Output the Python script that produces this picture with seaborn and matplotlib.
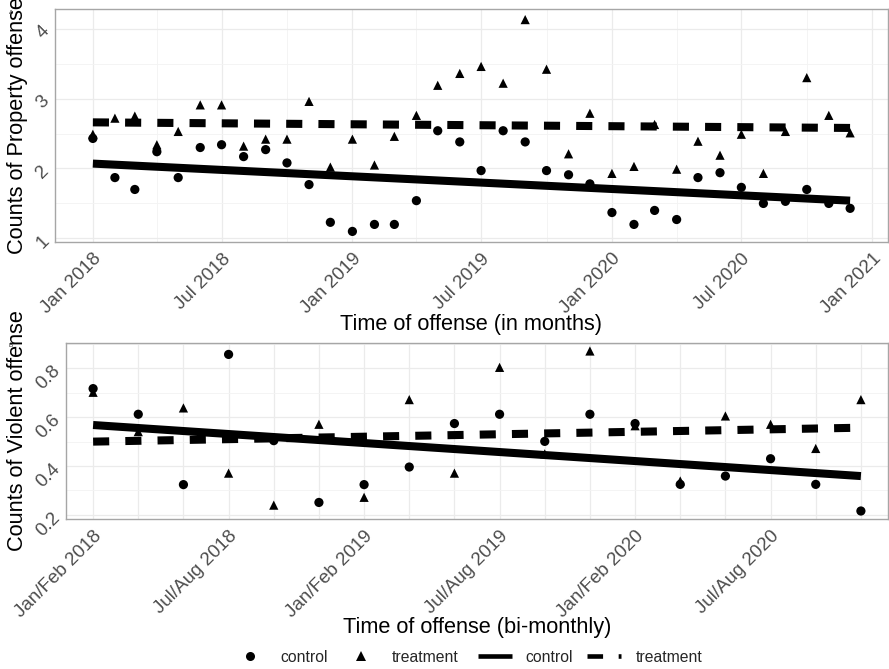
import matplotlib
matplotlib.use("Agg")
import matplotlib.dates as mdates
import matplotlib.pyplot as plt
import numpy as np
import pandas as pd
import seaborn as sns
from matplotlib.lines import Line2D
from matplotlib.ticker import FixedLocator, FormatStrFormatter, MultipleLocator

# panel A: monthly property offences
months = pd.date_range("2018-01-01", "2020-12-01", freq="MS")
property_control = [
    2.43, 1.87, 1.70, 2.24, 1.87, 2.30, 2.34, 2.17, 2.27, 2.08, 1.77, 1.23,
    1.10, 1.20, 1.20, 1.54, 2.54, 2.38, 1.97, 2.54, 2.38, 1.97, 1.91, 1.78,
    1.37, 1.20, 1.40, 1.27, 1.87, 1.94, 1.73, 1.50, 1.53, 1.70, 1.50, 1.43,
]
property_treatment = [
    2.49, 2.72, 2.75, 2.34, 2.53, 2.91, 2.91, 2.32, 2.42, 2.42, 2.96, 2.02,
    2.42, 2.05, 2.46, 2.76, 3.19, 3.36, 3.46, 3.22, 4.13, 3.42, 2.21, 2.79,
    1.93, 2.03, 2.63, 1.99, 2.39, 2.19, 2.49, 1.93, 2.53, 3.30, 2.76, 2.51,
]
# fitted trend (first and last month)
property_fit_control = [2.07, 1.54]
property_fit_treatment = [2.66, 2.58]

# panel B: bi-monthly violent offences
bimonths = [
    "Jan/Feb 2018", "Mar/Apr 2018", "May/Jun 2018", "Jul/Aug 2018", "Sep/Oct 2018", "Nov/Dec 2018",
    "Jan/Feb 2019", "Mar/Apr 2019", "May/Jun 2019", "Jul/Aug 2019", "Sep/Oct 2019", "Nov/Dec 2019",
    "Jan/Feb 2020", "Mar/Apr 2020", "May/Jun 2020", "Jul/Aug 2020", "Sep/Oct 2020", "Nov/Dec 2020",
]
violent_control = [
    0.717, 0.612, 0.324, 0.857, 0.504, 0.251, 0.324, 0.396, 0.574,
    0.612, 0.501, 0.612, 0.574, 0.325, 0.359, 0.430, 0.325, 0.216,
]
violent_treatment = [
    0.702, 0.541, 0.638, 0.371, 0.240, 0.571, 0.272, 0.672, 0.371,
    0.804, 0.450, 0.871, 0.565, 0.339, 0.605, 0.571, 0.472, 0.672,
]
violent_fit_control = [0.568, 0.359]
violent_fit_treatment = [0.500, 0.557]

groups = ["control", "treatment"]

sns.set_theme(style="white")
plt.rcParams["font.family"] = ["Liberation Sans", "DejaVu Sans"]
plt.rcParams["lines.solid_capstyle"] = "butt"
plt.rcParams["lines.dash_capstyle"] = "butt"

mx = mdates.date2num(months.to_pydatetime())
bx = np.arange(len(bimonths))

prop_pts = pd.DataFrame({
    "x": np.concatenate([mx, mx]),
    "value": property_control + property_treatment,
    "group": ["control"] * len(mx) + ["treatment"] * len(mx),
})
prop_fit = pd.DataFrame({
    "x": [mx[0], mx[-1]] * 2,
    "value": property_fit_control + property_fit_treatment,
    "group": ["control"] * 2 + ["treatment"] * 2,
})
viol_pts = pd.DataFrame({
    "x": np.concatenate([bx, bx]),
    "value": violent_control + violent_treatment,
    "group": ["control"] * len(bx) + ["treatment"] * len(bx),
})
viol_fit = pd.DataFrame({
    "x": [bx[0], bx[-1]] * 2,
    "value": violent_fit_control + violent_fit_treatment,
    "group": ["control"] * 2 + ["treatment"] * 2,
})

W, H = 889, 669
fig = plt.figure(figsize=(W / 100, H / 100), dpi=100)
fig.patch.set_facecolor("white")
ax1 = fig.add_axes([55 / W, 1 - 242 / H, 833 / W, 233 / H])
ax2 = fig.add_axes([66 / W, 1 - 519 / H, 822 / W, 176 / H])

markers = {"control": "o", "treatment": "^"}
dashes = {"control": "", "treatment": (2, 2)}

for ax, pts, fit in [(ax1, prop_pts, prop_fit), (ax2, viol_pts, viol_fit)]:
    sns.scatterplot(data=pts, x="x", y="value", style="group", markers=markers,
                    color="black", s=44, linewidth=0, legend=False, ax=ax, zorder=2)
    sns.lineplot(data=fit, x="x", y="value", style="group", dashes=dashes,
                 color="black", lw=5.8, legend=False, ax=ax, zorder=3)
    vals = pts["value"]
    lo, hi = vals.min(), vals.max()
    pad = 0.05 * (hi - lo)
    ax.set_ylim(lo - pad, hi + pad)
    ax.grid(which="major", color="#EBEBEB", lw=0.9)
    ax.grid(which="minor", color="#F3F3F3", lw=0.6)
    ax.set_axisbelow(True)
    for sp in ax.spines.values():
        sp.set_color("#A6A6A6")
        sp.set_linewidth(1.0)
    ax.tick_params(axis="both", which="major", length=4, width=0.8, color="#B3B3B3",
                   labelsize=13.5, labelcolor="#4D4D4D", pad=2)
    ax.tick_params(axis="both", which="minor", length=0)

# top panel axes
span = mx[-1] - mx[0]
ax1.set_xlim(mx[0] - 0.05 * span, mx[-1] + 0.05 * span)
ax1.xaxis.set_major_locator(mdates.MonthLocator(bymonth=[1, 7]))
ax1.xaxis.set_minor_locator(mdates.MonthLocator(bymonth=[4, 10]))
ax1.xaxis.set_major_formatter(mdates.DateFormatter("%b %Y"))
ax1.yaxis.set_major_locator(MultipleLocator(1))
ax1.yaxis.set_minor_locator(MultipleLocator(0.5))

# bottom panel axes
ax2.set_xlim(-0.6, len(bimonths) - 0.4)
ax2.xaxis.set_major_locator(FixedLocator(bx))
ax2.set_xticklabels([lab if i % 3 == 0 else "" for i, lab in enumerate(bimonths)])
ax2.yaxis.set_major_locator(MultipleLocator(0.2))
ax2.yaxis.set_minor_locator(MultipleLocator(0.1))
ax2.yaxis.set_major_formatter(FormatStrFormatter("%.1f"))

for ax in (ax1, ax2):
    for lab in ax.get_xticklabels():
        lab.set_rotation(45)
        lab.set_ha("right")
        lab.set_va("top")
        lab.set_rotation_mode("anchor")
    for lab in ax.get_yticklabels():
        lab.set_rotation(45)
        lab.set_ha("right")
        lab.set_va("center")
        lab.set_rotation_mode("anchor")

ax1.set_xlabel("Time of offense (in months)", fontsize=15.7, color="black")
ax1.xaxis.set_label_coords(0.5, (242 - 324) / 233)
ax1.xaxis.label.set_va("center")
ax1.set_ylabel("Counts of Property offense", fontsize=15.7, color="black")
ax1.yaxis.set_label_coords((18 - 55) / 833, 0.5)
ax1.yaxis.label.set(ha="center", va="center")

ax2.set_xlabel("Time of offense (bi-monthly)", fontsize=15.7, color="black")
ax2.xaxis.set_label_coords(0.5, (519 - 627) / 176)
ax2.xaxis.label.set_va("center")
ax2.set_ylabel("Counts of Violent offense", fontsize=15.7, color="black")
ax2.yaxis.set_label_coords((18 - 66) / 822, 0.5)
ax2.yaxis.label.set(ha="center", va="center")

fig.text(11 / W, 1 - 12 / H, "A", fontsize=4.5, ha="center", va="center")
fig.text(11 / W, 1 - 345 / H, "B", fontsize=4.5, ha="center", va="center")

shape_handles = [
    Line2D([], [], marker="o", ls="", color="black", markersize=6.5, markeredgewidth=0),
    Line2D([], [], marker="^", ls="", color="black", markersize=6.5, markeredgewidth=0),
]
line_handles = [
    Line2D([], [], color="black", lw=3.3),
    Line2D([], [], color="black", lw=3.3, ls=(0, (3.4, 3.4))),
]
fig.legend(shape_handles, groups, loc="center", bbox_to_anchor=(350 / W, 1 - 657 / H),
           ncol=2, frameon=False, fontsize=11.3, handlelength=1.0,
           handletextpad=1.45, columnspacing=1.6, borderpad=0, borderaxespad=0)
fig.legend(line_handles, groups, loc="center", bbox_to_anchor=(590 / W, 1 - 657 / H),
           ncol=2, frameon=False, fontsize=11.3, handlelength=2.17,
           handletextpad=0.9, columnspacing=0.9, borderpad=0, borderaxespad=0)

fig.savefig("out.png", dpi=100, facecolor="white")
plt.close(fig)
